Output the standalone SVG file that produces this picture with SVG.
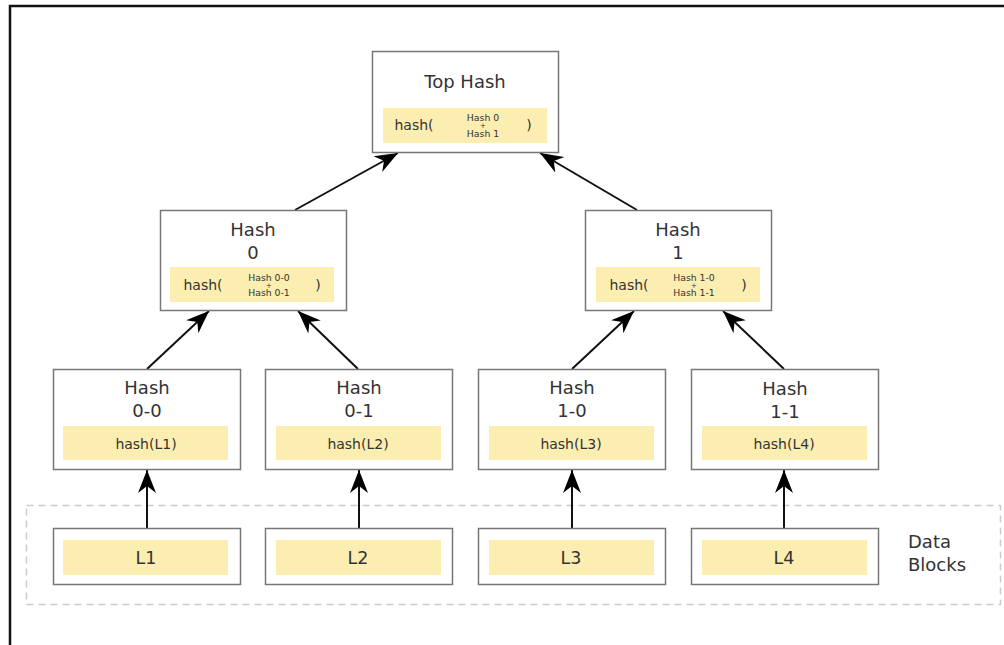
<svg xmlns="http://www.w3.org/2000/svg" width="1004" height="645" viewBox="0 0 1004 645">
<style>
.box{fill:#fff;stroke:#777;stroke-width:1.5}
.fill{fill:#fcedb1}
.t{font-family:"DejaVu Sans",sans-serif;fill:#333;text-anchor:middle}
.ti{font-size:18px}
.h{font-size:14px}
.s{font-size:9.3px}
.p{font-size:7px}
.d{font-size:17.5px}
.edge{stroke:#111;stroke-width:2;fill:none;marker-end:url(#ah)}
</style>
<defs>
<marker id="ah" markerUnits="userSpaceOnUse" markerWidth="26" markerHeight="22" viewBox="-24 -11 26 22" refX="0" refY="0" orient="auto">
<path d="M0,0 L-23,-9 L-16,0 L-23,9 Z" fill="#000"/>
</marker>
</defs>
<rect x="0" y="0" width="1004" height="645" fill="#fff"/>
<rect x="10" y="6" width="1010" height="660" fill="none" stroke="#111" stroke-width="2.5"/>
<rect id="data-blocks" x="26.5" y="505.5" width="974" height="99" fill="none" stroke="#ccc" stroke-width="1.5" stroke-dasharray="7,5"/>
<text class="t" x="908" y="548" style="font-size:18px;text-anchor:start">Data</text>
<text class="t" x="908" y="571" style="font-size:18px;text-anchor:start">Blocks</text>

<g id="edges">
<line class="edge" x1="295" y1="210" x2="398" y2="153"/>
<line class="edge" x1="637" y1="210" x2="540" y2="153"/>
<line class="edge" x1="147" y1="369" x2="209" y2="311"/>
<line class="edge" x1="358" y1="369" x2="298" y2="311"/>
<line class="edge" x1="572" y1="369" x2="634" y2="311"/>
<line class="edge" x1="784" y1="369" x2="723" y2="311"/>
<line class="edge" x1="147" y1="528" x2="147" y2="470"/>
<line class="edge" x1="359" y1="528" x2="359" y2="470"/>
<line class="edge" x1="572" y1="528" x2="572" y2="470"/>
<line class="edge" x1="784" y1="528" x2="784" y2="470"/>
</g>

<g id="top-hash">
<rect class="box" x="372.5" y="51.5" width="186" height="101"/>
<rect class="fill" x="383" y="108" width="164" height="35"/>
<text class="t ti" x="465" y="88">Top Hash</text>
<text class="t h" x="414" y="130">hash(</text>
<text class="t h" x="529" y="130">)</text>
<text class="t s" x="483" y="121">Hash 0</text>
<text class="t p" x="483" y="128">+</text>
<text class="t s" x="483" y="136.5">Hash 1</text>
</g>

<g id="hash-0">
<rect class="box" x="160.5" y="210.5" width="186" height="100"/>
<rect class="fill" x="170" y="267" width="164" height="35"/>
<text class="t ti" x="253" y="236">Hash</text>
<text class="t ti" x="253" y="259">0</text>
<text class="t h" x="203" y="290">hash(</text>
<text class="t h" x="318" y="290">)</text>
<text class="t s" x="269" y="281">Hash 0-0</text>
<text class="t p" x="269" y="288">+</text>
<text class="t s" x="269" y="296">Hash 0-1</text>
</g>

<g id="hash-1">
<rect class="box" x="585.5" y="210.5" width="186" height="100"/>
<rect class="fill" x="596" y="267" width="164" height="35"/>
<text class="t ti" x="678" y="236">Hash</text>
<text class="t ti" x="678" y="259">1</text>
<text class="t h" x="629" y="290">hash(</text>
<text class="t h" x="744" y="290">)</text>
<text class="t s" x="694" y="281">Hash 1-0</text>
<text class="t p" x="694" y="288">+</text>
<text class="t s" x="694" y="296">Hash 1-1</text>
</g>

<g id="hash-0-0">
<rect class="box" x="53.5" y="369.5" width="187" height="100"/>
<rect class="fill" x="63" y="426" width="165" height="34"/>
<text class="t ti" x="147" y="394">Hash</text>
<text class="t ti" x="147" y="417">0-0</text>
<text class="t h" x="146" y="449">hash(L1)</text>
</g>
<g id="hash-0-1">
<rect class="box" x="265.5" y="369.5" width="187" height="100"/>
<rect class="fill" x="276" y="426" width="165" height="34"/>
<text class="t ti" x="359" y="394">Hash</text>
<text class="t ti" x="359" y="417">0-1</text>
<text class="t h" x="358" y="449">hash(L2)</text>
</g>
<g id="hash-1-0">
<rect class="box" x="478.5" y="369.5" width="187" height="100"/>
<rect class="fill" x="489" y="426" width="165" height="34"/>
<text class="t ti" x="572" y="394">Hash</text>
<text class="t ti" x="572" y="417">1-0</text>
<text class="t h" x="571" y="449">hash(L3)</text>
</g>
<g id="hash-1-1">
<rect class="box" x="691.5" y="369.5" width="187" height="100"/>
<rect class="fill" x="702" y="426" width="165" height="34"/>
<text class="t ti" x="785" y="395">Hash</text>
<text class="t ti" x="785" y="418">1-1</text>
<text class="t h" x="784" y="449">hash(L4)</text>
</g>

<g id="l1">
<rect class="box" x="53.5" y="528.5" width="187" height="56"/>
<rect class="fill" x="63" y="540" width="165" height="35"/>
<text class="t d" x="146" y="564">L1</text>
</g>
<g id="l2">
<rect class="box" x="265.5" y="528.5" width="187" height="56"/>
<rect class="fill" x="276" y="540" width="165" height="35"/>
<text class="t d" x="358" y="564">L2</text>
</g>
<g id="l3">
<rect class="box" x="478.5" y="528.5" width="187" height="56"/>
<rect class="fill" x="489" y="540" width="165" height="35"/>
<text class="t d" x="571" y="564">L3</text>
</g>
<g id="l4">
<rect class="box" x="691.5" y="528.5" width="187" height="56"/>
<rect class="fill" x="702" y="540" width="165" height="35"/>
<text class="t d" x="784" y="564">L4</text>
</g>
</svg>
